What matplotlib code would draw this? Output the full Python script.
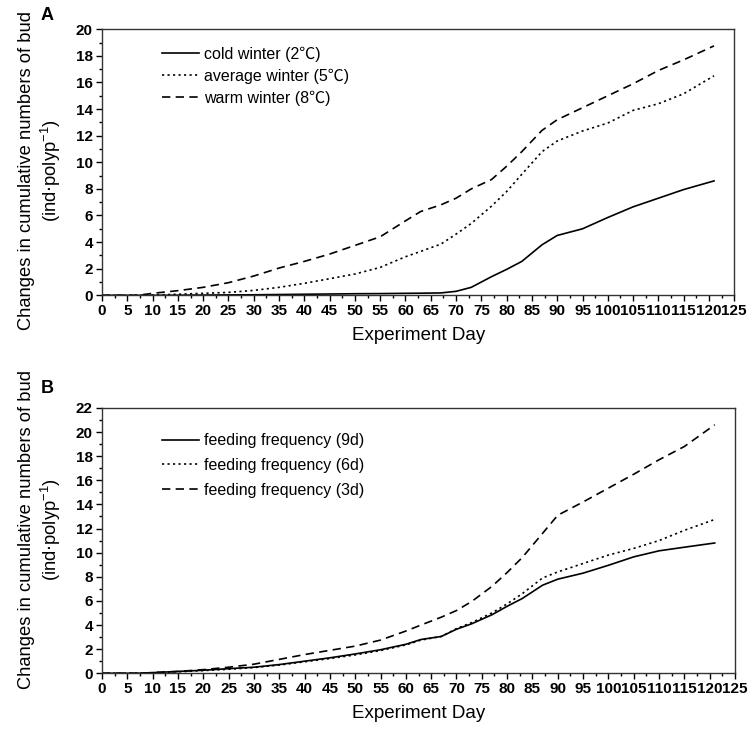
import numpy as np
import matplotlib
matplotlib.use('Agg')
import matplotlib.pyplot as plt
from matplotlib.ticker import MultipleLocator

plt.rcParams['font.family'] = ['Liberation Sans', 'Noto Sans CJK SC', 'DejaVu Sans']

# data
days = [0, 7, 10, 15, 20, 25, 30, 35, 40, 45, 50, 55, 60, 63, 67, 70, 73, 77, 80, 83, 87, 90, 95, 100, 105, 110, 115, 121]

cold = [0, 0, 0, 0.01, 0.02, 0.03, 0.04, 0.06, 0.08, 0.1, 0.12, 0.13, 0.15, 0.16, 0.18, 0.3, 0.6, 1.4, 1.95, 2.55, 3.8, 4.5, 5.0, 5.85, 6.65, 7.3, 7.95, 8.6]
average = [0, 0, 0.02, 0.08, 0.15, 0.22, 0.37, 0.6, 0.9, 1.25, 1.6, 2.1, 2.9, 3.3, 3.85, 4.6, 5.4, 6.7, 7.8, 9.1, 10.8, 11.6, 12.35, 12.95, 13.9, 14.4, 15.15, 16.5]
warm = [0, 0, 0.15, 0.35, 0.6, 0.95, 1.45, 2.05, 2.55, 3.1, 3.75, 4.4, 5.6, 6.3, 6.8, 7.3, 8.0, 8.7, 9.7, 10.8, 12.4, 13.2, 14.1, 15.0, 15.9, 16.9, 17.7, 18.75]

feed9 = [0, 0, 0.05, 0.15, 0.25, 0.38, 0.5, 0.72, 1.0, 1.28, 1.6, 1.95, 2.4, 2.8, 3.05, 3.65, 4.1, 4.85, 5.55, 6.2, 7.3, 7.8, 8.3, 8.95, 9.65, 10.15, 10.45, 10.8]
feed6 = [0, 0, 0.04, 0.12, 0.22, 0.33, 0.47, 0.68, 0.95, 1.22, 1.52, 1.88, 2.35, 2.75, 3.05, 3.7, 4.2, 5.0, 5.75, 6.6, 7.9, 8.4, 9.1, 9.8, 10.35, 11.0, 11.85, 12.75]
feed3 = [0, 0, 0.05, 0.15, 0.3, 0.5, 0.75, 1.15, 1.55, 1.9, 2.25, 2.75, 3.5, 4.0, 4.65, 5.2, 5.95, 7.2, 8.35, 9.6, 11.6, 13.1, 14.2, 15.35, 16.5, 17.7, 18.8, 20.6]

labels_a = ['cold winter (2\u2103)', 'average winter (5\u2103)', 'warm winter (8\u2103)']
labels_b = ['feeding frequency (9d)', 'feeding frequency (6d)', 'feeding frequency (3d)']

styles = ['-', (0, (1.3, 2.0)), (0, (5, 3.2))]
ylab1 = 'Changes in cumulative numbers of bud'
ylab2 = '(ind$\\cdot$polyp$^{\\mathregular{-1}}$)'

fig = plt.figure(figsize=(7.5, 7.31), dpi=100)
ax1 = fig.add_axes([0.136, 0.596, 0.843, 0.364])
ax2 = fig.add_axes([0.136, 0.079, 0.844, 0.363])

def style_axis(ax, ymax, ylab_y):
    ax.set_xlim(0, 125)
    ax.set_ylim(0, ymax)
    ax.xaxis.set_major_locator(MultipleLocator(5))
    ax.xaxis.set_minor_locator(MultipleLocator(2.5))
    ax.yaxis.set_major_locator(MultipleLocator(2))
    ax.yaxis.set_minor_locator(MultipleLocator(1))
    ax.tick_params(which='major', direction='out', length=4.5, width=1, labelsize=11, pad=2)
    ax.tick_params(which='minor', direction='out', length=2.5, width=1)
    for lab in ax.get_xticklabels() + ax.get_yticklabels():
        lab.set_fontweight('bold')
    for sp in ax.spines.values():
        sp.set_linewidth(1.0)
        sp.set_color('#333333')
    ax.set_xlabel('Experiment Day', fontsize=13.5, labelpad=6)
    # y label as two lines placed separately
    ax.text(-0.119, ylab_y, ylab1, transform=ax.transAxes, rotation=90,
            ha='center', va='center', fontsize=13.2)
    ax.text(-0.081, ylab_y, ylab2, transform=ax.transAxes, rotation=90,
            ha='center', va='center', fontsize=13.2)

for ax, series, labels, ymax, ly, lsp, yly in [
        (ax1, [cold, average, warm], labels_a, 20, 0.935, 0.42, 0.47),
        (ax2, [feed9, feed6, feed3], labels_b, 22, 0.905, 0.62, 0.54)]:
    for y, ls, lab in zip(series, styles, labels):
        ax.plot(days, y, color='black', linestyle=ls, linewidth=1.2, label=lab)
    style_axis(ax, ymax, yly)
    ax.legend(loc='upper left', bbox_to_anchor=(0.095, ly), frameon=False,
              fontsize=11.5, handlelength=2.3, handletextpad=0.3,
              labelspacing=lsp, borderpad=0, borderaxespad=0)

fig.text(47 / 750, 1 - 15 / 731, 'A', fontsize=13, fontweight='bold', ha='center', va='center')
fig.text(47 / 750, 1 - 388 / 731, 'B', fontsize=13, fontweight='bold', ha='center', va='center')

plt.savefig('out.png', dpi=100)
